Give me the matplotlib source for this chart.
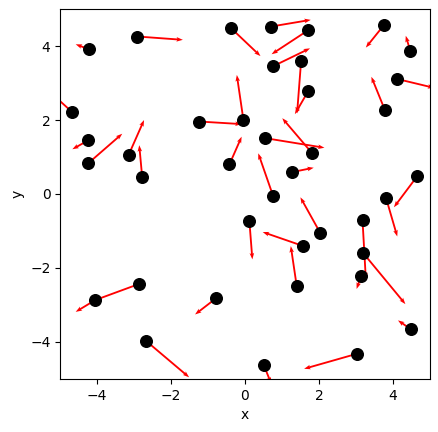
import numpy as np
import matplotlib
matplotlib.use("Agg")
import matplotlib.pyplot as plt

# point positions
x = [-4.21, -2.91, -0.37, -4.67, -1.24, -0.04, -4.24, -4.24, -3.15, -2.78,
     -0.42, 0.71, 1.71, 0.77, 1.52, 1.71, 0.55, 1.82, 1.27, 0.76,
     3.76, 4.47, 4.12, 3.79, 4.66, 3.82, -2.88, -4.05, -0.78, -2.67,
     0.12, 2.04, 1.58, 1.40, 3.18, 3.20, 3.14, 4.49, 3.04, 0.51]
y = [3.91, 4.26, 4.48, 2.21, 1.96, 1.99, 1.45, 0.83, 1.05, 0.45,
     0.80, 4.53, 4.43, 3.46, 3.61, 2.78, 1.51, 1.10, 0.59, -0.05,
     4.57, 3.88, 3.11, 2.26, 0.48, -0.12, -2.44, -2.87, -2.82, -3.98,
     -0.74, -1.06, -1.41, -2.49, -0.71, -1.60, -2.23, -3.66, -4.32, -4.63]

# vector components
u = [-0.37, 1.23, 0.79, -0.55, 1.15, -0.18, -0.43, 0.92, 0.42, -0.08,
     0.33, 1.07, -0.99, 0.99, -0.11, -0.36, 1.60, -0.81, 0.59, -0.40,
     -0.49, -0.12, 1.00, -0.37, -0.63, 0.30, -1.17, -0.53, -0.57, 1.16,
     0.08, -0.54, -1.10, -0.16, 0.09, 1.14, -0.12, -0.35, -1.44, 0.20]
v = [0.14, -0.09, -0.75, 0.50, -0.07, 1.23, -0.24, 0.80, 0.95, 0.87,
     0.75, 0.18, -0.65, 0.48, -1.43, -0.62, -0.26, 0.95, 0.12, 1.15,
     -0.61, 0.40, -0.24, 0.91, -0.84, -1.03, -0.43, -0.32, -0.44, -0.98,
     -1.03, 0.97, 0.38, 1.08, -1.59, -1.38, -0.34, 0.24, -0.41, -0.50]

fig, ax = plt.subplots(figsize=(4.39, 4.32), dpi=100)
fig.subplots_adjust(left=0.137, right=0.979, bottom=0.123, top=0.979)

ax.quiver(x, y, u, v, angles='xy', scale_units='xy', scale=1, color='red',
          width=0.005, headwidth=2.5, headlength=3.5, headaxislength=3, zorder=2)
ax.scatter(x, y, s=70, color='black', zorder=3)

ax.set_xlim(-5, 5)
ax.set_ylim(-5, 5)
ax.set_aspect('equal')
ax.set_xticks([-4, -2, 0, 2, 4])
ax.set_yticks([-4, -2, 0, 2, 4])
ax.set_xlabel('x')
ax.set_ylabel('y')

fig.savefig('out.png', dpi=100)
